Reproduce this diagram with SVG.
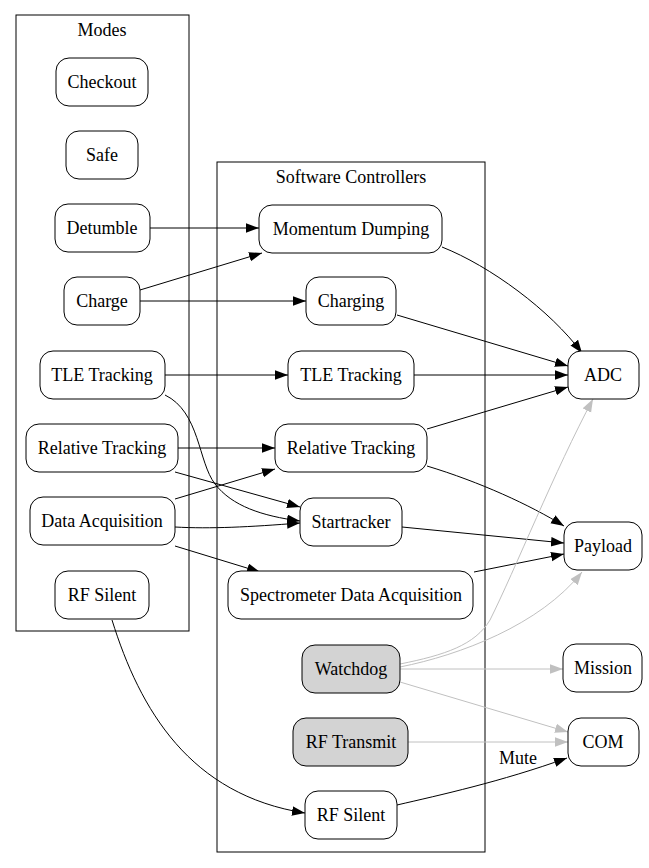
<svg xmlns="http://www.w3.org/2000/svg" width="649" height="868" viewBox="0 0 649 868">
<style>
text{font-family:"Liberation Serif","Times New Roman",serif;font-size:18px;fill:#000;text-anchor:middle}
.n rect{fill:#fff;stroke:#000;stroke-width:1}
.n.g rect{fill:#d3d3d3}
.cl{fill:none;stroke:#000;stroke-width:1}
.e{fill:none;stroke:#000;stroke-width:1}
.eg{fill:none;stroke:#c0c0c0;stroke-width:1}
</style>
<defs>
<marker id="ab" markerUnits="userSpaceOnUse" markerWidth="15" markerHeight="11" refX="13" refY="4.75" orient="auto"><path d="M0,0 L13,4.75 L0,9.5 z" fill="#000"/></marker>
<marker id="ag" markerUnits="userSpaceOnUse" markerWidth="15" markerHeight="11" refX="13" refY="4.75" orient="auto"><path d="M0,0 L13,4.75 L0,9.5 z" fill="#c0c0c0"/></marker>
</defs>
<rect width="649" height="868" fill="#fff"/>
<g id="cluster_modes"><rect class="cl" x="16" y="15" width="173" height="616"/><text x="102" y="36">Modes</text></g>
<g id="cluster_sw"><rect class="cl" x="217" y="162" width="268" height="690"/><text x="351" y="183">Software Controllers</text></g>

<g id="connectors">
<path class="e" marker-end="url(#ab)" d="M150,228 L259,228"/>
<path class="e" marker-end="url(#ab)" d="M140,290 L262,253"/>
<path class="e" marker-end="url(#ab)" d="M140,301 L306,301"/>
<path class="e" marker-end="url(#ab)" d="M165,375 L288,375"/>
<path class="e" marker-end="url(#ab)" d="M165,395 C200,412 198,462 215,484 C232,506 262,516 300,521"/>
<path class="e" marker-end="url(#ab)" d="M178,448 L275,448"/>
<path class="e" marker-end="url(#ab)" d="M175,472 L300,507"/>
<path class="e" marker-end="url(#ab)" d="M175,499 L275,469"/>
<path class="e" marker-end="url(#ab)" d="M175,527 C210,529 250,527 300,523"/>
<path class="e" marker-end="url(#ab)" d="M175,546 L260,572"/>
<path class="e" marker-end="url(#ab)" d="M112,620 C140,710 190,795 305,813"/>
<path class="e" marker-end="url(#ab)" d="M442,247 C490,266 550,310 582,353"/>
<path class="e" marker-end="url(#ab)" d="M397,315 L568,366"/>
<path class="e" marker-end="url(#ab)" d="M414,375 L568,375"/>
<path class="e" marker-end="url(#ab)" d="M427,429 L568,387"/>
<path class="e" marker-end="url(#ab)" d="M427,466 C480,482 530,505 564,526"/>
<path class="e" marker-end="url(#ab)" d="M402,527 L564,543"/>
<path class="e" marker-end="url(#ab)" d="M474,572 L564,554"/>
<path class="eg" marker-end="url(#ag)" d="M400,664 C445,655 475,645 490,620 C515,570 555,470 593,399"/>
<path class="eg" marker-end="url(#ag)" d="M400,667 C460,655 540,625 582,572"/>
<path class="eg" marker-end="url(#ag)" d="M400,669 L563,669"/>
<path class="eg" marker-end="url(#ag)" d="M400,682 L568,732"/>
<path class="eg" marker-end="url(#ag)" d="M408,742 L568,742"/>
<path class="e" marker-end="url(#ab)" d="M397,805 C440,795 500,782 567,758"/>
<text x="518" y="764">Mute</text>
</g>

<g id="m_checkout" class="n"><rect x="56" y="58" width="92" height="48" rx="13"/><text x="102" y="88">Checkout</text></g>
<g id="m_safe" class="n"><rect x="66" y="131" width="72" height="48" rx="13"/><text x="102" y="161">Safe</text></g>
<g id="m_detumble" class="n"><rect x="55" y="204" width="95" height="48" rx="13"/><text x="102" y="234">Detumble</text></g>
<g id="m_charge" class="n"><rect x="64" y="277" width="76" height="48" rx="13"/><text x="102" y="307">Charge</text></g>
<g id="m_tle" class="n"><rect x="40" y="351" width="125" height="48" rx="13"/><text x="102" y="381">TLE Tracking</text></g>
<g id="m_rel" class="n"><rect x="26" y="424" width="152" height="48" rx="13"/><text x="102" y="454">Relative Tracking</text></g>
<g id="m_data" class="n"><rect x="30" y="497" width="145" height="48" rx="13"/><text x="102" y="527">Data Acquisition</text></g>
<g id="m_rfsilent" class="n"><rect x="55" y="571" width="94" height="48" rx="13"/><text x="102" y="601">RF Silent</text></g>

<g id="c_momentum" class="n"><rect x="259" y="205" width="183" height="48" rx="13"/><text x="351" y="235">Momentum Dumping</text></g>
<g id="c_charging" class="n"><rect x="306" y="277" width="90" height="48" rx="13"/><text x="351" y="307">Charging</text></g>
<g id="c_tle" class="n"><rect x="288" y="351" width="126" height="48" rx="13"/><text x="351" y="381">TLE Tracking</text></g>
<g id="c_rel" class="n"><rect x="275" y="424" width="152" height="48" rx="13"/><text x="351" y="454">Relative Tracking</text></g>
<g id="c_star" class="n"><rect x="300" y="498" width="102" height="48" rx="13"/><text x="351" y="528">Startracker</text></g>
<g id="c_spectro" class="n"><rect x="228" y="571" width="245" height="48" rx="13"/><text x="351" y="601">Spectrometer Data Acquisition</text></g>
<g id="c_watchdog" class="n g"><rect x="302" y="645" width="98" height="48" rx="13"/><text x="351" y="675">Watchdog</text></g>
<g id="c_rftransmit" class="n g"><rect x="293" y="718" width="115" height="48" rx="13"/><text x="351" y="748">RF Transmit</text></g>
<g id="c_rfsilent" class="n"><rect x="305" y="791" width="92" height="48" rx="13"/><text x="351" y="821">RF Silent</text></g>

<g id="adc" class="n"><rect x="568" y="351" width="71" height="48" rx="13"/><text x="603" y="381">ADC</text></g>
<g id="payload" class="n"><rect x="564" y="522" width="78" height="48" rx="13"/><text x="603" y="552">Payload</text></g>
<g id="mission" class="n"><rect x="563" y="644" width="79" height="48" rx="13"/><text x="603" y="674">Mission</text></g>
<g id="com" class="n"><rect x="568" y="718" width="71" height="48" rx="13"/><text x="603" y="748">COM</text></g>
</svg>
